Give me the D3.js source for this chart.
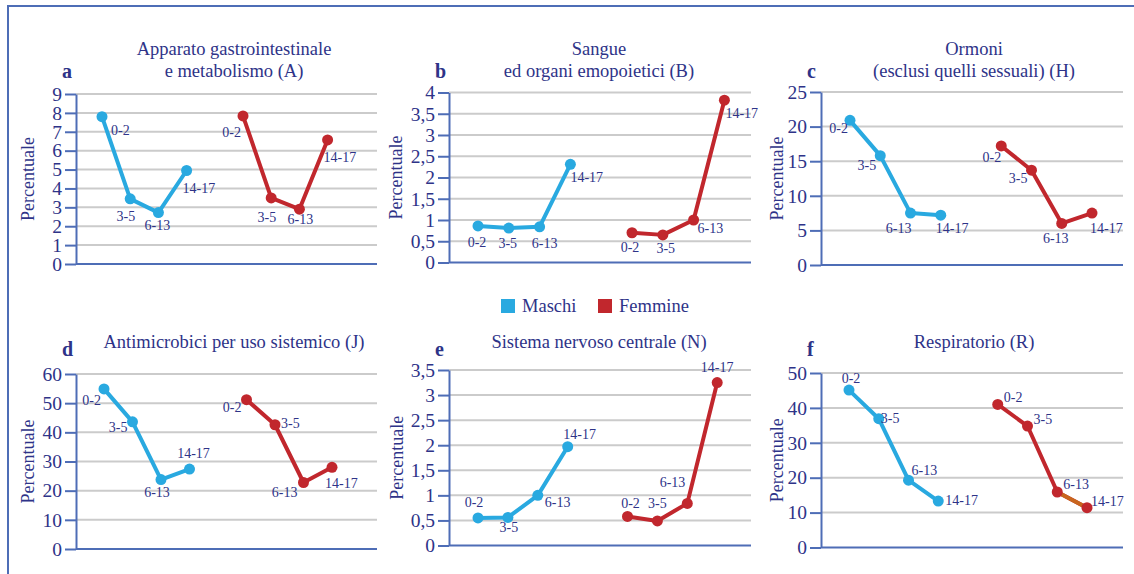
<!DOCTYPE html>
<html>
<head>
<meta charset="utf-8">
<script src="https://cdn.jsdelivr.net/npm/d3@7"></script>
<style>
  body { margin: 0; background: #fff; }
  svg text { font-family: "Liberation Serif", "Times New Roman", serif; fill: #2e3388; }
</style>
</head>
<body>
<div id="chart"></div>
<script>
// age groups on the x axis (maschi first, then a gap, then femmine)
var ageGroups = ['0-2', '3-5', '6-13', '14-17'];

var panelLetters = ['a', 'b', 'c', 'd', 'e', 'f'];
var panelTitles = [
  ['Apparato gastrointestinale', 'e metabolismo (A)'],
  ['Sangue', 'ed organi emopoietici (B)'],
  ['Ormoni', '(esclusi quelli sessuali) (H)'],
  ['Antimicrobici per uso sistemico (J)'],
  ['Sistema nervoso centrale (N)'],
  ['Respiratorio (R)']
];

// y axis: max and step of the ticks
var yMax  = [9, 4, 25, 60, 3.5, 50];
var yStep = [1, 0.5, 5, 10, 0.5, 10];

// percentuale, maschi
var maschiA = [7.8, 3.45, 2.72, 4.95];
var maschiB = [0.86, 0.81, 0.84, 2.31];
var maschiH = [20.9, 15.8, 7.5, 7.2];
var maschiJ = [54.9, 43.6, 23.8, 27.4];
var maschiN = [0.55, 0.56, 1.0, 1.97];
var maschiR = [45.1, 36.9, 19.3, 13.3];

// percentuale, femmine
var femmineA = [7.84, 3.5, 2.9, 6.57];
var femmineB = [0.7, 0.65, 1.0, 3.82];
var femmineH = [17.2, 13.7, 6.0, 7.5];
var femmineJ = [51.2, 42.6, 22.8, 28.0];
var femmineN = [0.58, 0.49, 0.84, 3.25];
var femmineR = [41.0, 34.8, 15.9, 11.4];

var maschi  = [maschiA, maschiB, maschiH, maschiJ, maschiN, maschiR];
var femmine = [femmineA, femmineB, femmineH, femmineJ, femmineN, femmineR];

// ---------- layout ----------
var W = 1134, H = 574;
var colX     = [76, 449, 821];      // y axis position of each column
var colRight = [377, 751, 1123];
var colTitle = [234, 599, 974];
var rowTop    = [[94, 92.5, 92], [374, 370, 373]];
var rowBottom = [[264, 262.5, 265], [549, 545.5, 547.5]];
var firstPt = [26, 29, 29, 28, 29, 28];
var stepPt  = [28.2, 30.8, 30.25, 28.5, 29.9, 29.75];
var ylabOff = [-48, -53, -44, -48, -52, -44];

// point label placement: [anchor, dx, dy]
var labM = [
  [['s', 9, 18], ['e', 5, 22], ['m', -1, 17], ['s', -4, 22]],
  [['m', -1, 21], ['m', -1, 20], ['m', 5, 21], ['s', 0, 18]],
  [['e', -2, 13], ['e', -4, 14], ['e', 1, 20], ['s', -5, 18]],
  [['e', -3, 16], ['e', -5, 10], ['m', -4, 17], ['m', 4, -11]],
  [['m', -4, -11], ['m', 1, 15], ['s', 7, 12], ['m', 12, -8]],
  [['m', 2, -7], ['s', 2, 4], ['s', 3, -5], ['s', 7, 4]]
];
var labF = [
  [['e', -2, 21], ['e', 5, 24], ['m', 1, 15], ['s', -4, 22]],
  [['m', -2, 19], ['m', 3, 18], ['s', 4, 13], ['s', 1, 18]],
  [['e', 0, 16], ['e', -4, 13], ['m', -6, 20], ['s', -2, 20]],
  [['e', -5, 12], ['s', 6, 3], ['e', -6, 14], ['s', -7, 21]],
  [['m', 3, -8], ['m', 0, -13], ['e', -2, -16], ['m', 0, -11]],
  [['s', 6, -2], ['s', 6, -2], ['s', 6, -3], ['s', 4, -2]]
];

var cBlue = '#29a9e0', cRed = '#c1272d', cOrange = '#c8661e';
var cAxis = '#4e6db6', cGrid = '#cbcbcb';
var anchors = { s: 'start', m: 'middle', e: 'end' };

var itLocale = d3.formatLocale({ decimal: ',', thousands: '.', grouping: [3], currency: ['', '€'] });
var fmt = itLocale.format('~g');

var svg = d3.select('#chart').append('svg')
    .attr('width', W)
    .attr('height', H);

// frame
svg.append('line').attr('x1', 7).attr('x2', W).attr('y1', 6).attr('y2', 6)
    .attr('stroke', cAxis).attr('stroke-width', 2);
svg.append('line').attr('x1', 8).attr('x2', 8).attr('y1', 5).attr('y2', H)
    .attr('stroke', cAxis).attr('stroke-width', 2);

// legend
var legend = [['Maschi', cBlue, 501], ['Femmine', cRed, 598]];
legend.forEach(function(l) {
  svg.append('rect').attr('x', l[2]).attr('y', 299).attr('width', 14).attr('height', 14)
      .attr('fill', l[1]);
  svg.append('text').attr('x', l[2] + 21).attr('y', 312)
      .style('font-size', '18.5px').text(l[0]);
});

var slots = ['M0', 'M1', 'M2', 'M3', 'gap', 'F0', 'F1', 'F2', 'F3'];

panelLetters.forEach(function(letter, i) {
  var col = i % 3, row = Math.floor(i / 3);
  var x0 = colX[col], x1 = colRight[col];
  var top = rowTop[row][col], bottom = rowBottom[row][col];

  var y = d3.scaleLinear().domain([0, yMax[i]]).range([bottom, top]);
  var x = d3.scalePoint().domain(slots)
      .range([x0 + firstPt[i], x0 + firstPt[i] + 8 * stepPt[i]]);
  var ticks = d3.range(0, yMax[i] + yStep[i] / 2, yStep[i]);

  var g = svg.append('g');

  // gridlines
  g.selectAll('.grid').data(ticks.slice(1)).enter().append('line')
      .attr('x1', x0).attr('x2', x1)
      .attr('y1', d => y(d)).attr('y2', d => y(d))
      .attr('stroke', cGrid).attr('stroke-width', 2);

  // baseline
  g.append('line').attr('x1', x0).attr('x2', x1)
      .attr('y1', y(0)).attr('y2', y(0))
      .attr('stroke', cAxis).attr('stroke-width', 2);

  // y axis
  var ax = g.append('g')
      .attr('transform', 'translate(' + x0 + ',0)')
      .call(d3.axisLeft(y).tickValues(ticks).tickSize(11).tickSizeOuter(0)
        .tickPadding(3).tickFormat(fmt));
  ax.select('.domain').attr('stroke', cAxis).attr('stroke-width', 2);
  ax.selectAll('.tick line').attr('stroke', cAxis).attr('stroke-width', 2);
  ax.selectAll('.tick text')
      .attr('fill', '#2e3388')
      .style('font-family', '"Liberation Serif", serif')
      .style('font-size', '19.5px');

  g.append('text')
      .attr('transform', 'translate(' + (x0 + ylabOff[i]) + ',' + ((top + bottom) / 2) + ') rotate(-90)')
      .attr('text-anchor', 'middle')
      .attr('dy', '0.35em')
      .style('font-size', '18px')
      .text('Percentuale');

  // panel letter
  g.append('text')
      .attr('x', x0 - 14)
      .attr('y', row === 0 ? 78 : 356)
      .style('font-size', '20px').style('font-weight', 'bold')
      .text(letter);

  // title
  var t = panelTitles[i];
  t.forEach(function(line, k) {
    g.append('text')
        .attr('x', colTitle[col])
        .attr('y', row === 0 ? 55 + k * 21.5 : 348)
        .attr('text-anchor', 'middle')
        .style('font-size', '18.5px')
        .text(line);
  });

  // series
  var series = [
    { vals: maschi[i], pre: 'M', color: cBlue, lab: labM[i] },
    { vals: femmine[i], pre: 'F', color: cRed, lab: labF[i] }
  ];
  var line = d3.line().x(d => d[0]).y(d => d[1]);

  series.forEach(function(s) {
    var pts = s.vals.map((v, k) => [x(s.pre + k), y(v)]);
    g.append('path').attr('d', line(pts))
        .attr('fill', 'none').attr('stroke', s.color)
        .attr('stroke-width', 4).attr('stroke-linejoin', 'round');
    // respiratorio, femmine: last segment drawn orange in the original
    if (i === 5 && s.pre === 'F') {
      g.append('path').attr('d', line(pts.slice(2)))
          .attr('fill', 'none').attr('stroke', cOrange).attr('stroke-width', 4);
    }
    g.selectAll(null).data(pts).enter().append('circle')
        .attr('cx', d => d[0]).attr('cy', d => d[1]).attr('r', 5.5)
        .attr('fill', s.color);
    g.selectAll(null).data(pts).enter().append('text')
        .attr('x', (d, k) => d[0] + s.lab[k][1])
        .attr('y', (d, k) => d[1] + s.lab[k][2])
        .attr('text-anchor', (d, k) => anchors[s.lab[k][0]])
        .style('font-size', '14px')
        .text((d, k) => ageGroups[k]);
  });
});
</script>
</body>
</html>
